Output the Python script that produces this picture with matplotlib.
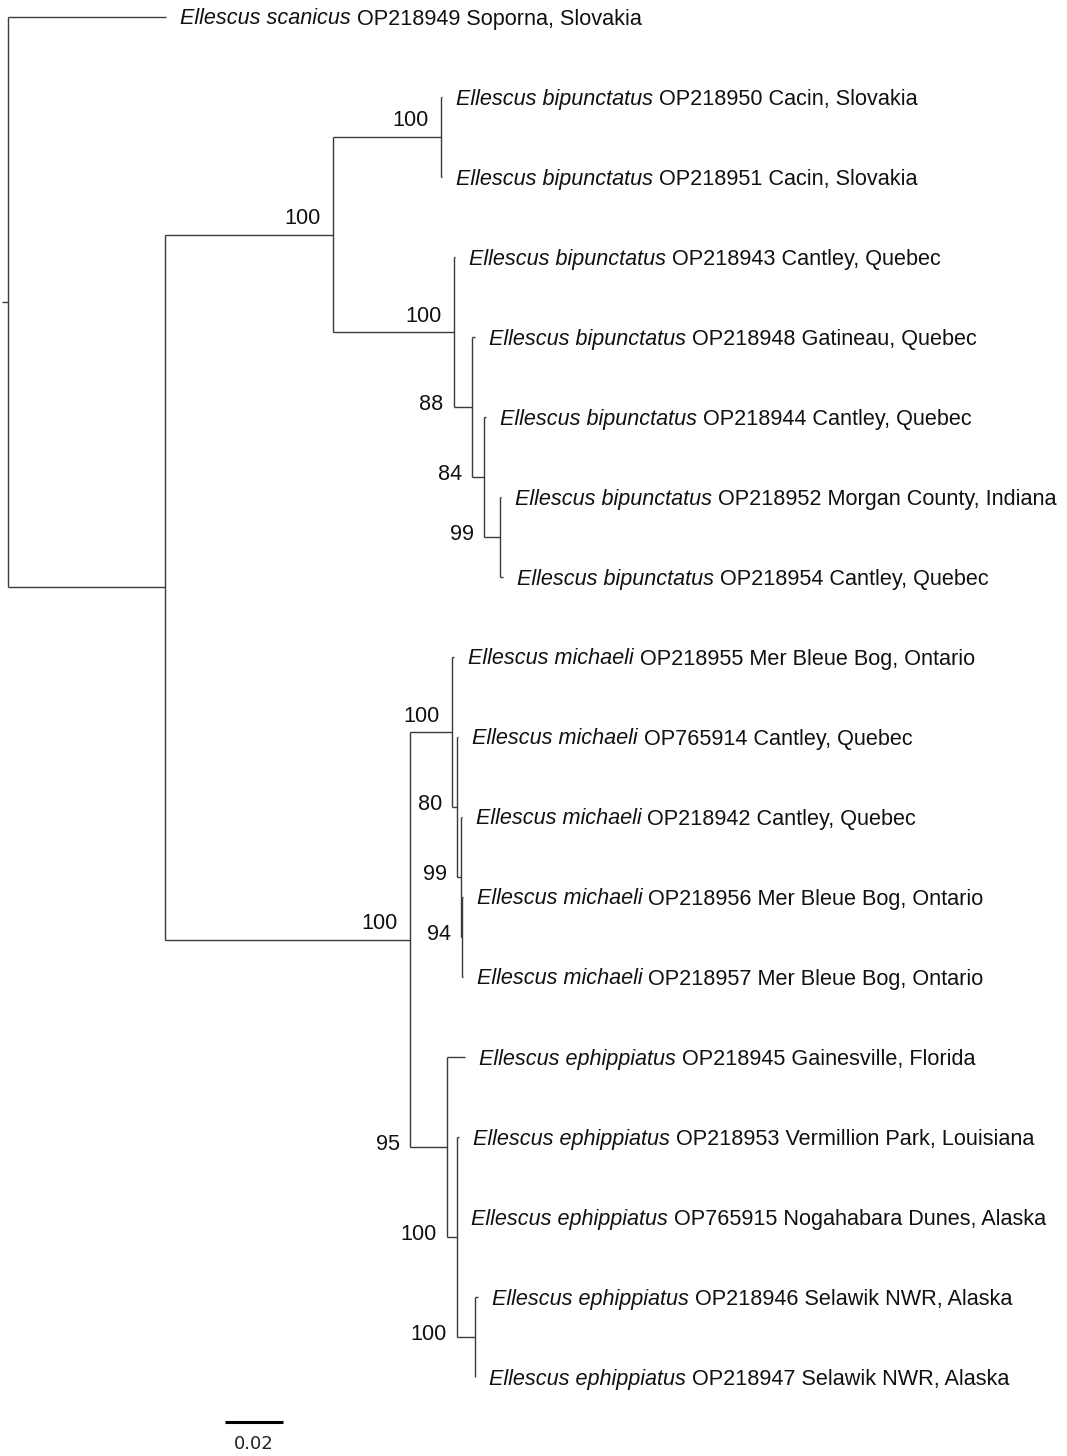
import matplotlib.pyplot as plt

# leaves, top to bottom
leaf_species = ['Ellescus scanicus'] + ['Ellescus bipunctatus'] * 7 + \
    ['Ellescus michaeli'] * 5 + ['Ellescus ephippiatus'] * 5
leaf_info = ['OP218949 Soporna, Slovakia',
             'OP218950 Cacin, Slovakia',
             'OP218951 Cacin, Slovakia',
             'OP218943 Cantley, Quebec',
             'OP218948 Gatineau, Quebec',
             'OP218944 Cantley, Quebec',
             'OP218952 Morgan County, Indiana',
             'OP218954 Cantley, Quebec',
             'OP218955 Mer Bleue Bog, Ontario',
             'OP765914 Cantley, Quebec',
             'OP218942 Cantley, Quebec',
             'OP218956 Mer Bleue Bog, Ontario',
             'OP218957 Mer Bleue Bog, Ontario',
             'OP218945 Gainesville, Florida',
             'OP218953 Vermillion Park, Louisiana',
             'OP765915 Nogahabara Dunes, Alaska',
             'OP218946 Selawik NWR, Alaska',
             'OP218947 Selawik NWR, Alaska']
leaf_parent = ['root', 'C', 'C', 'D', 'E', 'F', 'G', 'G', 'I', 'J', 'K', 'L', 'L',
               'M', 'N', 'N', 'O', 'O']
leaf_branch = [0.0545, 0.0004, 0.0004, 0.0004, 0.0010, 0.0007, 0.0003, 0.0010,
               0.0007, 0.0005, 0.0003, 0.0003, 0.0003,
               0.0062, 0.0008, 0.0, 0.0010, 0.0002]

# internal nodes (parents listed before children)
nodes = ['root', 'A', 'B', 'C', 'D', 'E', 'F', 'G', 'H', 'I', 'J', 'K', 'L', 'M', 'N', 'O']
node_parent = [None, 'root', 'A', 'B', 'B', 'D', 'E', 'F', 'A', 'H', 'I', 'J', 'K', 'H', 'M', 'N']
node_branch = [0.0021, 0.0541, 0.0579, 0.0372, 0.0417, 0.0062, 0.0042, 0.0055,
               0.0845, 0.0145, 0.0017, 0.0014, 0.0003, 0.0128, 0.0034, 0.0062]
node_support = [None, None, 100, 100, 100, 88, 84, 99, 100, 100, 80, 99, 94, 95, 100, 100]
support_at = ['', '', 'node', 'node', 'node', 'parent', 'parent', 'parent', 'node', 'node',
              'parent', 'parent', 'parent', 'parent', 'parent', 'parent']

scale_len = 0.02

plt.rcParams['font.family'] = ['Liberation Sans', 'DejaVu Sans']
lc = '#3a3a3a'
lw = 1.0
fs = 15.6

# layout
nx = {}
for n, p, b in zip(nodes, node_parent, node_branch):
    nx[n] = 0.0 if p is None else nx[p] + b
lx = [nx[p] + b for p, b in zip(leaf_parent, leaf_branch)]

children = {n: [] for n in nodes}
for i, p in enumerate(leaf_parent):
    children[p].append(('leaf', i))
for n, p in zip(nodes, node_parent):
    if p is not None:
        children[p].append(('node', n))

ny = {}
for n in reversed(nodes):
    ys = [i if k == 'leaf' else ny[i] for k, i in children[n]]
    ny[n] = (min(ys) + max(ys)) / 2

fig = plt.figure(figsize=(10.67, 14.56), dpi=100)
ax = fig.add_axes([0, 0, 1, 1])
ax.set_xlim(-8 / 2900, 1059 / 2900)
ax.set_ylim(1439 / 80, -17 / 80)
ax.axis('off')

# branches
for n, p in zip(nodes, node_parent):
    ys = [i if k == 'leaf' else ny[i] for k, i in children[n]]
    ax.plot([nx[n], nx[n]], [min(ys), max(ys)], color=lc, lw=lw, solid_capstyle='butt')
    x0 = -node_branch[0] if p is None else nx[p]
    ax.plot([x0, nx[n]], [ny[n], ny[n]], color=lc, lw=lw, solid_capstyle='butt')
for i, p in enumerate(leaf_parent):
    ax.plot([nx[p], lx[i]], [i, i], color=lc, lw=lw, solid_capstyle='butt')

# tip labels
for i in range(len(leaf_species)):
    t = ax.annotate(leaf_species[i], xy=(lx[i], i), xytext=(14, -2),
                    textcoords='offset pixels', fontsize=fs, style='italic',
                    va='center', ha='left', color='#111111')
    ax.annotate(leaf_info[i], xy=(1, 0.5), xycoords=t, xytext=(6, 0),
                textcoords='offset pixels', fontsize=fs, va='center', ha='left',
                color='#111111')

# bootstrap values
for n, p, s, where in zip(nodes, node_parent, node_support, support_at):
    if s is None:
        continue
    if where == 'node':
        ax.annotate(str(s), xy=(nx[n], ny[n]), xytext=(-12, 16),
                    textcoords='offset pixels', fontsize=fs, ha='right', va='center',
                    color='#111111')
    else:
        ax.annotate(str(s), xy=(nx[p], ny[n]), xytext=(-10, 2),
                    textcoords='offset pixels', fontsize=fs, ha='right', va='center',
                    color='#111111')

# scale bar
sb_x = 217 / 2900
sb_y = 1405 / 80
ax.plot([sb_x, sb_x + scale_len], [sb_y, sb_y], color='black', lw=2.2, solid_capstyle='butt')
ax.text(sb_x + scale_len / 2, sb_y + 0.28, '0.02', fontsize=13, ha='center', va='center',
        family='DejaVu Sans', color='#222222')

fig.savefig('out.png', dpi=100)
